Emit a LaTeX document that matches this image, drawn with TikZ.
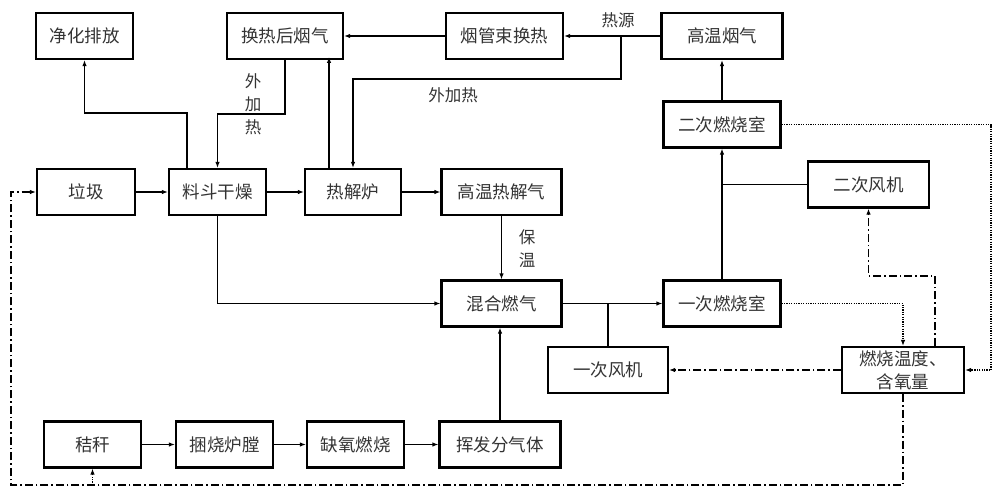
\documentclass[tikz,border=0pt]{standalone}
\usepackage{fontspec}
\newfontfamily\cjk{Noto Sans CJK SC}
\usetikzlibrary{arrows.meta}
\begin{document}
\begin{tikzpicture}[x=1pt,y=-1pt,
  box/.style={draw, line width=2.2pt, inner sep=0pt, minimum height=46pt,
    font=\cjk\fontsize{17.5}{23}\selectfont, align=center, text=black!80},
  lbl/.style={inner sep=0pt, font=\cjk\fontsize{16.5}{23}\selectfont, align=center, text=black!80},
  tip/.style={-{Latex[length=6pt,width=4.5pt]}},
  ln/.style={line width=1.4pt},
  arr/.style={ln, tip},
  dd/.style={line width=1.4pt, dash pattern=on 8pt off 3pt on 1.5pt off 3pt},
  dt/.style={line width=1.4pt, dash pattern=on 1.2pt off 1.2pt}]
\useasboundingbox (0,0) rectangle (1000,498);
% top row
\node[box, minimum width=97pt]  (jh) at (84.5,36)  {净化排放};
\node[box, minimum width=116pt] (hr) at (285,36)   {换热后烟气};
\node[box, minimum width=117pt] (yg) at (504.5,36) {烟管束换热};
\node[box, minimum width=121pt] (gw) at (722,36)   {高温烟气};
% second row
\node[box, minimum width=98pt]  (lj) at (86,192)    {垃圾};
\node[box, minimum width=97pt]  (ld) at (217.5,192) {料斗干燥};
\node[box, minimum width=96pt]  (rj) at (353,192)   {热解炉};
\node[box, minimum width=120pt] (gr) at (501.5,192) {高温热解气};
\node[box, minimum width=117pt] (ec) at (722,124.5) {二次燃烧室};
\node[box, minimum width=121pt] (ef) at (868.5,184.5) {二次风机};
% middle
\node[box, minimum width=120pt] (hh) at (501.5,303.5) {混合燃气};
\node[box, minimum width=117pt] (yc) at (722,303.5)   {一次燃烧室};
\node[box, minimum width=120pt] (yf) at (608,370)     {一次风机};
\node[box, minimum width=122pt] (rs) at (903,370)     {燃烧温度、\\含氧量};
% bottom row
\node[box, minimum width=97pt]  (jg) at (92.5,444.5)  {秸秆};
\node[box, minimum width=97pt]  (kf) at (224.5,444.5) {捆烧炉膛};
\node[box, minimum width=97pt]  (qy) at (355.5,444.5) {缺氧燃烧};
\node[box, minimum width=121pt] (hf) at (500,444.5)   {挥发分气体};
% labels
\node[lbl] (l1) at (253,104) {外\\加\\热};
\node[lbl] (l2) at (453,95)  {外加热};
\node[lbl] (l3) at (618,20)  {热源};
\node[lbl] (l4) at (527,249) {保\\温};
% solid connectors
\draw[arr] (lj) -- (ld);
\draw[arr] (ld) -- (rj);
\draw[arr] (rj) -- (gr);
\draw[arr] (gw) -- (yg);
\draw[arr] (yg) -- (hr);
\draw[arr] ([xshift=-30.5pt]ld.north) -- ++(0,-55) -| (jh.south);
\draw[arr] (hr.south) -- (285,114) -| (ld.north);
\draw[arr] ([xshift=-24pt]rj.north) -- ++(0,-111);
\coordinate (hs) at (621,36);
\draw[arr] (hs) -- (621,79) -| (rj.north);
\draw[arr] (gr) -- (hh);
\draw[arr] (ld.south) |- (hh.west);
\draw[arr] (hf.north) -- (hf.north |- hh.south);
\draw[arr] (jg) -- (kf);
\draw[arr] (kf) -- (qy);
\draw[arr] (qy) -- (hf);
\draw[arr] (hh) -- (yc);
\draw[ln] (yf.north) -- (yf.north |- hh.east);
\draw[arr] (yc) -- (ec);
\draw[ln] (ef.west) -- (ef.west -| yc.north);
\draw[arr] (ec) -- (gw);
% dotted signal lines
\draw[dt, tip] (ec.east) -- (991,124.5) |- (rs.east);
\draw[dt, tip] (yc.east) -| (rs.north);
% dash-dot control lines
\draw[dd, tip] (rs.west) -- (yf.east);
\draw[dd, tip] ([xshift=32pt]rs.north) -- ++(0,-70) -| (ef.south);
\draw[dd, tip] (rs.south) -- (903,485) -| (11,192) -- (lj.west);
\coordinate (jb) at (92.5,485);
\draw[dt, tip] (jb) -- (jg.south);
\end{tikzpicture}
\end{document}
